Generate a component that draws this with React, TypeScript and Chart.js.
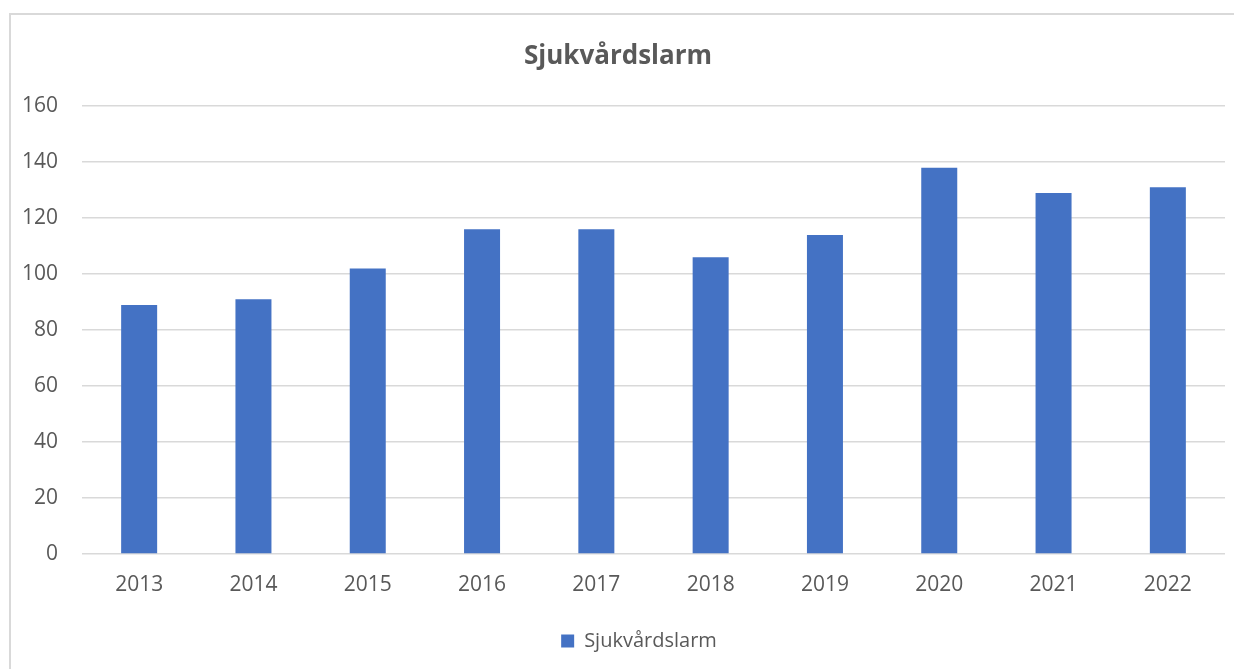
import React, { useEffect, useRef } from "react";
import { Chart, registerables } from "chart.js";

Chart.register(...registerables);

const title = "Sjukvårdslarm";
const seriesLabel = "Sjukvårdslarm";
const categories = ["2013", "2014", "2015", "2016", "2017", "2018", "2019", "2020", "2021", "2022"];
const values = [89, 91, 102, 116, 116, 106, 114, 138, 129, 131];
const yMin = 0;
const yMax = 160;
const yStep = 20;

const FONT = "'Open Sans', Lato, sans-serif";
const TEXT = "#595959";
const GRID = "#d9d9d9";
const BAR = "#4472C4";

const legendShift = {
  id: "legendShift",
  afterLayout(chart: any) {
    const lg = chart.legend;
    if (lg) {
      lg.left += 21;
      lg.right += 21;
    }
  },
};

export default function App() {
  const ref = useRef<HTMLCanvasElement | null>(null);

  useEffect(() => {
    document.body.style.overflow = "hidden";
    const canvas = ref.current;
    if (!canvas) return;
    const chart = new Chart(canvas, {
      type: "bar",
      data: {
        labels: categories,
        datasets: [
          {
            label: seriesLabel,
            data: values,
            backgroundColor: BAR,
            borderWidth: 0,
            categoryPercentage: 1,
            barPercentage: 0.315,
          },
        ],
      },
      plugins: [legendShift],
      options: {
        animation: false,
        responsive: false,
        maintainAspectRatio: false,
        layout: { padding: { left: 0, right: 13, top: 0, bottom: 8 } },
        plugins: {
          title: {
            display: true,
            text: title,
            color: TEXT,
            font: { family: FONT, size: 26, weight: "bold" },
            padding: { top: 26, bottom: 34 },
          },
          legend: {
            display: true,
            position: "bottom",
            labels: {
              color: TEXT,
              font: { family: FONT, size: 20 },
              boxWidth: 13,
              boxHeight: 13,
              padding: 10,
            },
          },
          tooltip: { enabled: false },
        },
        scales: {
          x: {
            grid: { display: false, drawTicks: false },
            border: { display: false },
            ticks: {
              color: TEXT,
              font: { family: FONT, size: 21 },
              padding: 18,
              maxRotation: 0,
            },
            afterFit: (s: any) => {
              s.height = 67;
            },
          },
          y: {
            min: yMin,
            max: yMax,
            grid: { color: GRID, lineWidth: 1.5, drawTicks: false },
            border: { display: false },
            ticks: {
              stepSize: yStep,
              color: TEXT,
              font: { family: FONT, size: 21 },
              padding: 24,
            },
            afterFit: (s: any) => {
              s.width = 71;
            },
          },
        },
      },
    });
    return () => chart.destroy();
  }, []);

  return (
    <div
      style={{
        marginLeft: 1,
        marginTop: 5,
        width: 1227,
        height: 680,
        border: `2px solid ${GRID}`,
        background: "#fff",
      }}
    >
      <canvas ref={ref} width={1227} height={654} style={{ display: "block" }} />
    </div>
  );
}
